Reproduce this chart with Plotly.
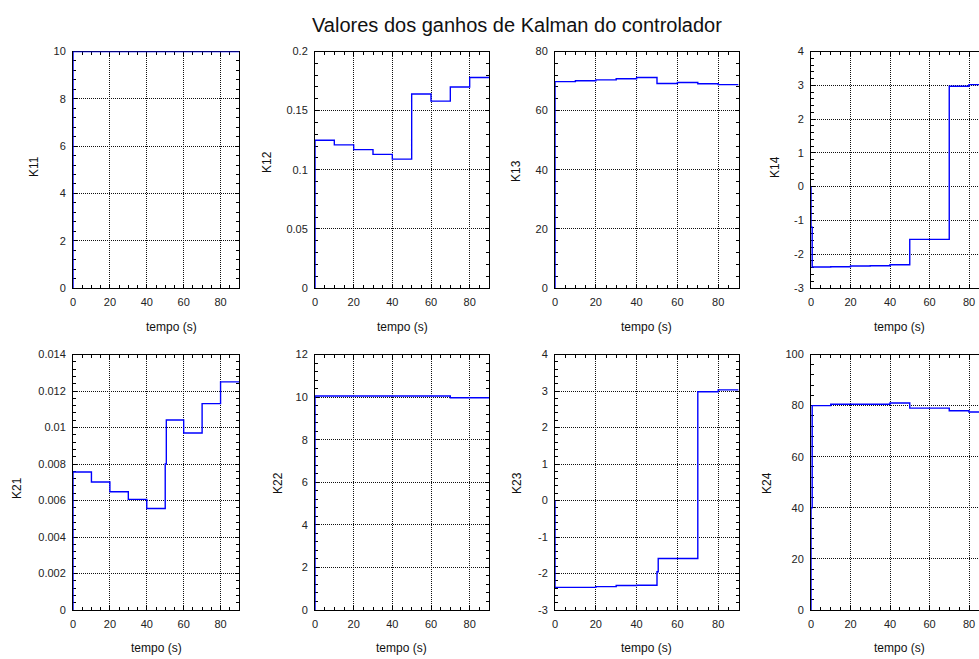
import plotly.graph_objects as go

W, H = 979, 659

# ---------------- data ----------------
sample_t = [0, 10, 20, 30, 40, 50, 60, 70, 80]
t_end = 90

K11 = [10, 10, 10, 10, 10, 10, 10, 10, 10]
K12 = [0.125, 0.121, 0.117, 0.113, 0.109, 0.164, 0.158, 0.170, 0.178]
K13 = [69.8, 70.1, 70.4, 70.8, 71.2, 69.2, 69.5, 69.1, 68.8]
K14 = [-2.38, -2.37, -2.35, -2.34, -2.31, -1.56, -1.56, 2.97, 3.02]
K21 = [0.00756, 0.00701, 0.00648, 0.00606, 0.00556, 0.01041, 0.0097, 0.01131, 0.0125]
K22 = [10.05, 10.05, 10.05, 10.05, 10.05, 10.05, 10.05, 9.97, 9.97]
K23 = [-2.38, -2.38, -2.36, -2.33, -2.32, -1.59, -1.59, 2.98, 3.03]
K24 = [80.0, 80.5, 80.5, 80.5, 81.0, 79.0, 79.0, 78.0, 77.5]

# short intermediate samples seen at some switching instants: (time, value)
transients = {
    "K14": (0, -1.2),
    "K24": (0, 40),
    "K21": (50, 0.008),
    "K23": (50, -1.95),
}
transient_len = 0.6

series = [("K11", K11), ("K12", K12), ("K13", K13), ("K14", K14),
          ("K21", K21), ("K22", K22), ("K23", K23), ("K24", K24)]

y_ranges = {"K11": [0, 10], "K12": [0, 0.2], "K13": [0, 80], "K14": [-3, 4],
            "K21": [0, 0.014], "K22": [0, 12], "K23": [-3, 4], "K24": [0, 100]}
y_dticks = {"K11": 2, "K12": 0.05, "K13": 20, "K14": 1,
            "K21": 0.002, "K22": 2, "K23": 1, "K24": 20}

# axes with negative values use plain hyphen labels as in the original
signed_tick_vals = [-3, -2, -1, 0, 1, 2, 3, 4]
signed_tick_text = ["-3", "-2", "-1", "0", "1", "2", "3", "4"]
signed_axes = ["K14", "K23"]

title_text = "Valores dos ganhos de Kalman do controlador"
x_title = "tempo (s)"

# ---------------- layout geometry (pixels) ----------------
cols_px = [(73, 239), (315, 489), (555, 738.6), (811, 979)]
rows_px = [(51.5, 288), (354.5, 610)]
# last column is cut by the picture edge (x=80 at px 969)
last_col_xmax = 80 * (979 - 811) / (969 - 811)

xtitle_px = [[(171, 327), (402, 327), (646, 327), (899, 327)],
             [(156, 648), (401, 648), (646, 648), (899, 648)]]
ytitle_px = [[(34, 167), (267, 162), (516, 171), (775, 167)],
             [(17, 488), (278, 483), (517, 483), (767, 483)]]

def px2x(p):
    return p / W

def px2y(p):
    return (H - p) / H

FONT = "Liberation Sans, Arial, sans-serif"

fig = go.Figure()
annotations = []

for i, (name, vals) in enumerate(series):
    r, c = divmod(i, 4)
    k = i + 1
    xs = [0]
    ys = [0]
    for t, v in zip(sample_t, vals):
        if name in transients and transients[name][0] == t:
            xs.append(t)
            ys.append(transients[name][1])
            xs.append(t + transient_len)
            ys.append(v)
        else:
            xs.append(t)
            ys.append(v)
    xs.append(t_end)
    ys.append(vals[-1])

    fig.add_trace(go.Scatter(
        x=xs, y=ys, mode="lines", line=dict(color="#0000ff", width=1.4, shape="hv"),
        xaxis=f"x{k}", yaxis=f"y{k}", showlegend=False, hoverinfo="skip"))

    xr = [0, last_col_xmax] if c == 3 else [0, 90]
    common = dict(
        showline=True, linecolor="black", linewidth=1,
        ticks="inside", ticklen=4, tickcolor="black",
        showgrid=True, gridcolor="#111111", gridwidth=1, griddash="1px,1px",
        zeroline=False, layer="below traces", automargin=False,
        tickfont=dict(family=FONT, size=11, color="#222222"),
        ticklabelstandoff=4,
    )
    fig.layout[f"xaxis{k}"] = dict(
        common, domain=[px2x(cols_px[c][0]), px2x(cols_px[c][1])],
        range=xr, tickmode="linear", tick0=0, dtick=20,
        mirror="allticks", anchor=f"y{k}",
        minor=dict(tickmode="linear", tick0=0, dtick=5, ticks="inside",
                   ticklen=3, tickcolor="black", showgrid=False),
    )
    yax = dict(
        common, domain=[px2y(rows_px[r][1]), px2y(rows_px[r][0])],
        range=y_ranges[name],
        mirror=False if c == 3 else "allticks", anchor=f"x{k}",
        minor=dict(tickmode="linear", tick0=y_ranges[name][0],
                   dtick=y_dticks[name] / 5, ticks="inside", ticklen=3,
                   tickcolor="black", showgrid=False),
    )
    if name in signed_axes:
        yax.update(tickmode="array", tickvals=signed_tick_vals, ticktext=signed_tick_text)
    else:
        yax.update(tickmode="linear", tick0=y_ranges[name][0], dtick=y_dticks[name])
    fig.layout[f"yaxis{k}"] = yax

    xt = xtitle_px[r][c]
    annotations.append(dict(
        text=x_title, x=px2x(xt[0]), y=px2y(xt[1]), xref="paper", yref="paper",
        xanchor="center", yanchor="middle", showarrow=False,
        font=dict(family=FONT, size=12, color="#111111")))
    yt = ytitle_px[r][c]
    annotations.append(dict(
        text=name, x=px2x(yt[0]), y=px2y(yt[1]), xref="paper", yref="paper",
        xanchor="center", yanchor="middle", showarrow=False, textangle=-90,
        font=dict(family=FONT, size=12, color="#111111")))

annotations.append(dict(
    text=title_text, x=px2x(517), y=px2y(25), xref="paper", yref="paper",
    xanchor="center", yanchor="middle", showarrow=False,
    font=dict(family=FONT, size=20, color="#111111")))

fig.update_layout(
    width=W, height=H, margin=dict(l=0, r=0, t=0, b=0, autoexpand=False),
    paper_bgcolor="white", plot_bgcolor="white",
    annotations=annotations, showlegend=False,
)

fig.write_html("out.html")
